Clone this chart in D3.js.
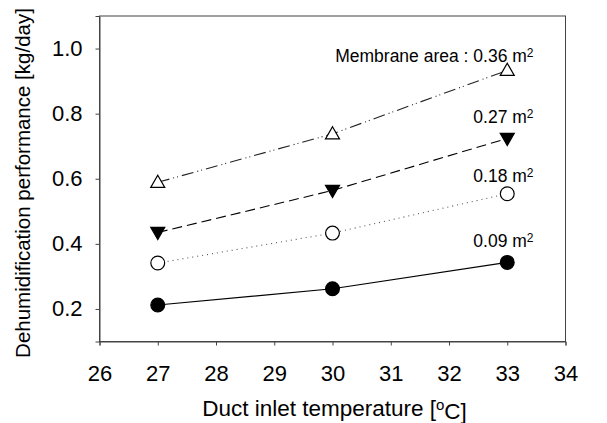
<!DOCTYPE html>
<html>
<head>
<meta charset="UTF-8">
<script src="https://cdn.jsdelivr.net/npm/d3@7/dist/d3.min.js"></script>
<style>
	*{margin:0;padding:0;}
	body{background:#fff;}
	text{font-family:"Liberation Sans",Arial,sans-serif;fill:#000;}
</style>
</head>
<body>
<div id="mychart"></div>
<script>
	//数据
	var temps = [27, 30, 33];
	var area036 = [0.589, 0.738, 0.933];
	var area027 = [0.435, 0.564, 0.724];
	var area018 = [0.341, 0.433, 0.554];
	var area009 = [0.212, 0.262, 0.343];
	var xTicks = [26, 27, 28, 29, 30, 31, 32, 33, 34];
	var yTicks = [0.2, 0.4, 0.6, 0.8, 1.0];

	var series = [
		{label: "Membrane area : 0.36 m", values: area036, marker: "tri-up", fill: "#fff", dash: "12,4,1,3,1,4", color: "#222"},
		{label: "0.27 m", values: area027, marker: "tri-down", fill: "#000", dash: "10,5", color: "#000"},
		{label: "0.18 m", values: area018, marker: "circle", fill: "#fff", dash: "1,4", color: "#555"},
		{label: "0.09 m", values: area009, marker: "circle", fill: "#000", dash: null, color: "#000"}
	];

	var W = 607, H = 423;
	var margin = {top: 16, left: 99.5, right: 41.5, bottom: 81.5};
	var plotW = W - margin.left - margin.right;
	var plotH = H - margin.top - margin.bottom;

	var svg = d3.select("#mychart").append("svg")
		.attr("width", W)
		.attr("height", H);
	var g = svg.append("g")
		.attr("transform", "translate(" + margin.left + "," + margin.top + ")");

	var x = d3.scaleLinear().domain([26, 34]).range([0, plotW]);
	var y = d3.scaleLinear().domain([0.1, 1.1]).range([plotH, 0]);

	//边框
	g.append("rect")
		.attr("width", plotW)
		.attr("height", plotH)
		.attr("fill", "none")
		.attr("stroke", "#444")
		.attr("stroke-width", 1);

	//x轴
	var gx = g.append("g")
		.attr("transform", "translate(0," + plotH + ")")
		.call(d3.axisBottom(x).tickValues(xTicks).tickSize(4).tickPadding(19.5).tickFormat(d3.format("d")));
	//y轴
	var gy = g.append("g")
		.call(d3.axisLeft(y).tickValues(yTicks).tickSize(4).tickPadding(13).tickFormat(d3.format(".1f")));

	[gx, gy].forEach(function(a){
		a.select(".domain").attr("stroke", "#444");
		a.selectAll("line").attr("stroke", "#444");
		a.selectAll("text").style("font-size", "22px").attr("fill", "#000");
	});

	//线
	var line = d3.line()
		.x(function(d, i){ return x(temps[i]); })
		.y(function(d){ return y(d); });

	series.forEach(function(s){
		g.append("path")
			.attr("d", line(s.values))
			.attr("fill", "none")
			.attr("stroke", s.color)
			.attr("stroke-width", 1.1)
			.attr("stroke-dasharray", s.dash);
	});

	//标记
	var triUp = d3.symbol().type(d3.symbolTriangle).size(85);
	series.forEach(function(s){
		g.selectAll(null)
			.data(s.values)
			.enter()
			.append("path")
			.attr("d", function(){
				return s.marker == "circle" ? d3.symbol().type(d3.symbolCircle).size(150)() : triUp();
			})
			.attr("transform", function(d, i){
				var t = "translate(" + x(temps[i]) + "," + y(d) + ")";
				if(s.marker == "tri-up") t += " translate(0,1)";
				if(s.marker == "tri-down") t += " rotate(180) translate(0,1)";
				return t;
			})
			.attr("fill", s.fill)
			.attr("stroke", "#000")
			.attr("stroke-width", 1.2);
	});

	//标签
	var labelY = [45.5, 107, 166, 230.5];
	series.forEach(function(s, i){
		var t = g.append("text")
			.attr("x", 434)
			.attr("y", labelY[i])
			.attr("text-anchor", "end")
			.style("font-size", "17.5px");
		t.append("tspan").text(s.label);
		t.append("tspan").attr("dy", "-0.4em").style("font-size", "12px").text("2");
	});

	//轴标题
	var xt = svg.append("text")
		.attr("x", margin.left + plotW / 2 + 2)
		.attr("y", 416)
		.attr("text-anchor", "middle")
		.style("font-size", "22.5px");
	xt.append("tspan").text("Duct inlet temperature [");
	xt.append("tspan").attr("dy", "-0.4em").style("font-size", "15px").text("o");
	xt.append("tspan").attr("dy", "0.4em").text("C]");

	svg.append("text")
		.attr("transform", "translate(30,183) rotate(-90)")
		.attr("text-anchor", "middle")
		.style("font-size", "20.5px")
		.text("Dehumidification performance [kg/day]");
</script>
</body>
</html>
